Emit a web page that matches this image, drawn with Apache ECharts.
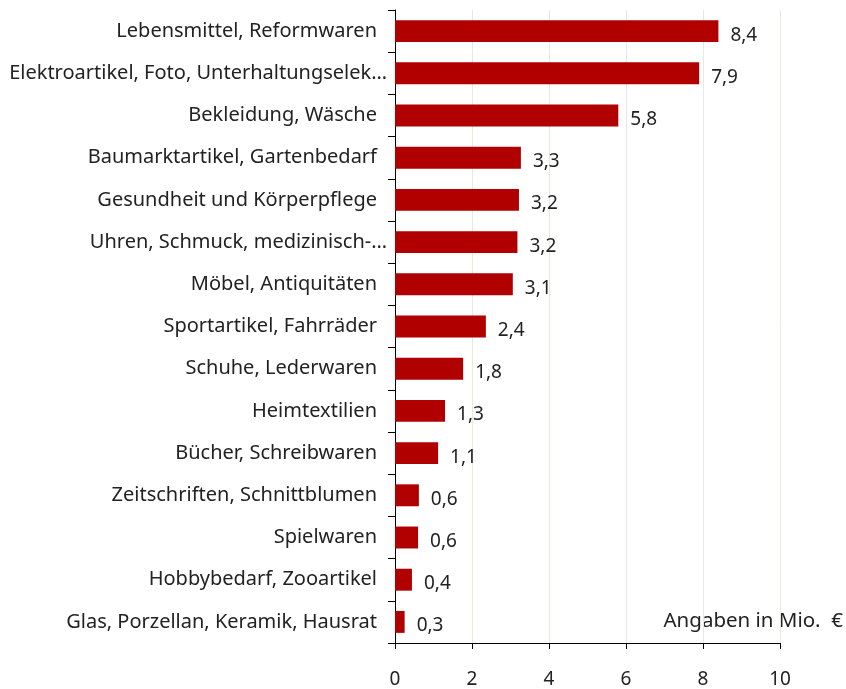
<!DOCTYPE html>
<html>
<head>
<meta charset="utf-8">
<script src="https://cdn.jsdelivr.net/npm/echarts@6/dist/echarts.min.js"></script>
<style>html,body{margin:0;padding:0;background:#fff}#c{width:846px;height:689px}</style>
</head>
<body>
<div id="c"></div>
<script>
const categories = [
  "Lebensmittel, Reformwaren",
  "Elektroartikel, Foto, Unterhaltungselek…",
  "Bekleidung, Wäsche",
  "Baumarktartikel, Gartenbedarf",
  "Gesundheit und Körperpflege",
  "Uhren, Schmuck, medizinisch-…",
  "Möbel, Antiquitäten",
  "Sportartikel, Fahrräder",
  "Schuhe, Lederwaren",
  "Heimtextilien",
  "Bücher, Schreibwaren",
  "Zeitschriften, Schnittblumen",
  "Spielwaren",
  "Hobbybedarf, Zooartikel",
  "Glas, Porzellan, Keramik, Hausrat"
];
const values = [8.4, 7.9, 5.8, 3.27, 3.22, 3.18, 3.06, 2.36, 1.77, 1.3, 1.12, 0.62, 0.6, 0.44, 0.25];
const labels = ["8,4", "7,9", "5,8", "3,3", "3,2", "3,2", "3,1", "2,4", "1,8", "1,3", "1,1", "0,6", "0,6", "0,4", "0,3"];
const xTicks = [0, 2, 4, 6, 8, 10];
const unitText = "Angaben in Mio.  €";

const chart = echarts.init(document.getElementById('c'));
const font = '"Noto Sans", sans-serif';
chart.setOption({
  animation: false,
  grid: { left: 395, right: 66, top: 10, bottom: 46, containLabel: false, outerBoundsMode: 'none' },
  xAxis: {
    type: 'value', min: xTicks[0], max: xTicks[xTicks.length - 1], interval: 2,
    axisLine: { show: true, lineStyle: { color: '#000', width: 1 } },
    axisTick: { show: true, length: 6, lineStyle: { color: '#000' } },
    axisLabel: { color: '#222', fontSize: 19, fontFamily: font, margin: 27 },
    splitLine: { show: true, lineStyle: { color: '#e8e8df', width: 1 } }
  },
  yAxis: {
    type: 'category', data: categories, inverse: true,
    axisLine: { show: true, lineStyle: { color: '#000', width: 1 } },
    axisTick: { show: true, length: 7, alignWithLabel: false, lineStyle: { color: '#000' } },
    axisLabel: {
      color: '#222', fontSize: 20, fontFamily: font, margin: 18,
      formatter: v => v.endsWith('…') ? '{e|' + v + '}' : v,
      rich: { e: { color: '#222', fontSize: 20, fontFamily: font, padding: [0, -10, 0, 0] } }
    },
    splitLine: { show: false }
  },
  series: [{
    type: 'bar',
    data: values,
    barWidth: '52%',
    itemStyle: { color: '#b00000' },
    label: {
      show: true, position: 'right', distance: 12, offset: [0, 4],
      color: '#222', fontSize: 19, fontFamily: font,
      formatter: p => labels[p.dataIndex]
    }
  }],
  graphic: [{
    type: 'text', right: 3, top: 611,
    style: { text: unitText, fill: '#222', fontSize: 20.5, fontFamily: font }
  }]
});
</script>
</body>
</html>
